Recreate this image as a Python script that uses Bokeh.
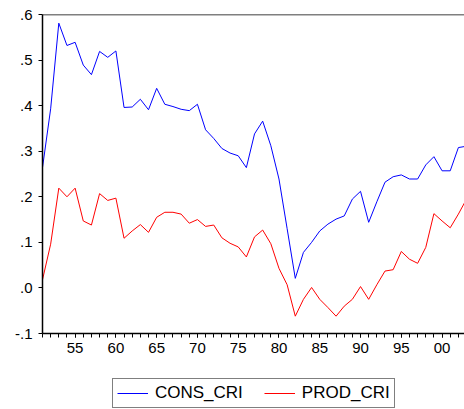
from bokeh.plotting import figure
from bokeh.layouts import column
from bokeh.models import (Range1d, FixedTicker, CustomJSTickFormatter, Legend,
                          LegendItem, Span, ColumnDataSource)
from bokeh.embed import file_html
from bokeh.resources import INLINE

# Annual series, 1951-2003
years = list(range(1951, 2004))
cons_cri = [0.264, 0.393, 0.581, 0.532, 0.539, 0.489, 0.468, 0.519, 0.506, 0.520,
            0.396, 0.397, 0.414, 0.391, 0.438, 0.403, 0.398, 0.392, 0.389, 0.403,
            0.347, 0.328, 0.306, 0.296, 0.290, 0.264, 0.338, 0.366, 0.312, 0.239,
            0.130, 0.021, 0.078, 0.100, 0.125, 0.140, 0.151, 0.158, 0.195, 0.212,
            0.144, 0.189, 0.232, 0.244, 0.248, 0.239, 0.239, 0.270, 0.288, 0.257,
            0.257, 0.308, 0.311]
prod_cri = [0.018, 0.096, 0.219, 0.200, 0.219, 0.147, 0.138, 0.207, 0.192, 0.197,
            0.109, 0.125, 0.139, 0.122, 0.155, 0.166, 0.166, 0.162, 0.142, 0.150,
            0.135, 0.138, 0.110, 0.098, 0.090, 0.068, 0.112, 0.127, 0.097, 0.043,
            0.007, -0.062, -0.025, 0.001, -0.025, -0.043, -0.062, -0.040, -0.025, 0.003,
            -0.025, 0.007, 0.037, 0.040, 0.080, 0.063, 0.054, 0.089, 0.163, 0.147,
            0.132, 0.162, 0.195]

x_major = [1955, 1960, 1965, 1970, 1975, 1980, 1985, 1990, 1995, 2000]
y_major = [-0.1, 0.0, 0.1, 0.2, 0.3, 0.4, 0.5, 0.6]

src = ColumnDataSource(dict(year=years, cons=cons_cri, prod=prod_cri))
font = "Liberation Sans"
BLUE, RED = "#0000FF", "#FF0000"

# ---- main chart -------------------------------------------------------
p = figure(width=464, height=363, output_backend="svg", toolbar_location=None,
           x_range=Range1d(1951, 2002.75), y_range=Range1d(-0.1, 0.6),
           min_border_left=42, min_border_right=0, min_border_top=14,
           min_border_bottom=30, background_fill_color="white",
           border_fill_color="white")
p.outline_line_color = None
p.xgrid.visible = False
p.ygrid.visible = False

# x axis: two-digit year labels, a tick at every year
p.xaxis.ticker = FixedTicker(ticks=x_major, minor_ticks=years)
p.xaxis.formatter = CustomJSTickFormatter(
    code='return String(tick % 100).padStart(2, "0");')
p.xaxis.major_tick_in = 0
p.xaxis.major_tick_out = 4
p.xaxis.minor_tick_in = 0
p.xaxis.minor_tick_out = 4
p.xaxis.major_label_standoff = 5

# y axis: decimals without leading zero
p.yaxis.ticker = FixedTicker(ticks=y_major, minor_ticks=[])
p.yaxis.formatter = CustomJSTickFormatter(
    code='const s = tick.toFixed(1); return s.replace(/^(-?)0\\./, "$1.");')
p.yaxis.major_tick_in = 0
p.yaxis.major_tick_out = 4
p.yaxis.major_label_standoff = 6

for ax in (p.xaxis, p.yaxis):
    ax.axis_line_color = "black"
    ax.axis_line_width = 1.5
    ax.major_tick_line_color = "black"
    ax.minor_tick_line_color = "black"
    ax.major_label_text_font = font
    ax.major_label_text_font_size = "15px"
    ax.major_label_text_color = "black"

# top border of the frame
p.add_layout(Span(location=0.6, dimension="width", line_color="black",
                  line_width=1.5))

p.line("year", "cons", source=src, line_color=BLUE, line_width=1)
p.line("year", "prod", source=src, line_color=RED, line_width=1)

# ---- legend strip under the chart ---------------------------------------
# same series drawn off-range, so only their legend entries show
leg = figure(width=464, height=46, output_backend="svg", toolbar_location=None,
             x_range=Range1d(0, 1), y_range=Range1d(0, 1),
             x_axis_location=None, y_axis_location=None, min_border=0,
             background_fill_color="white", border_fill_color="white")
leg.outline_line_color = None
leg.xgrid.visible = False
leg.ygrid.visible = False
l_cons = leg.line("year", "cons", source=src, line_color=BLUE, line_width=1)
l_prod = leg.line("year", "prod", source=src, line_color=RED, line_width=1)

# the column aligns this strip's frame with the chart frame (left edge 42px)
legend = Legend(items=[LegendItem(label="CONS_CRI", renderers=[l_cons]),
                       LegendItem(label="PROD_CRI", renderers=[l_prod])],
                orientation="horizontal", location=(70, 1),
                border_line_color="black", border_line_width=1,
                background_fill_color="white", background_fill_alpha=1,
                label_text_font=font, label_text_font_size="17px",
                label_text_color="black", glyph_width=31, glyph_height=14,
                label_height=14, label_standoff=7, spacing=21, padding=4,
                margin=0)
leg.add_layout(legend, "center")

layout = column(p, leg, spacing=0)
open("out.html", "w").write(file_html(layout, INLINE))
